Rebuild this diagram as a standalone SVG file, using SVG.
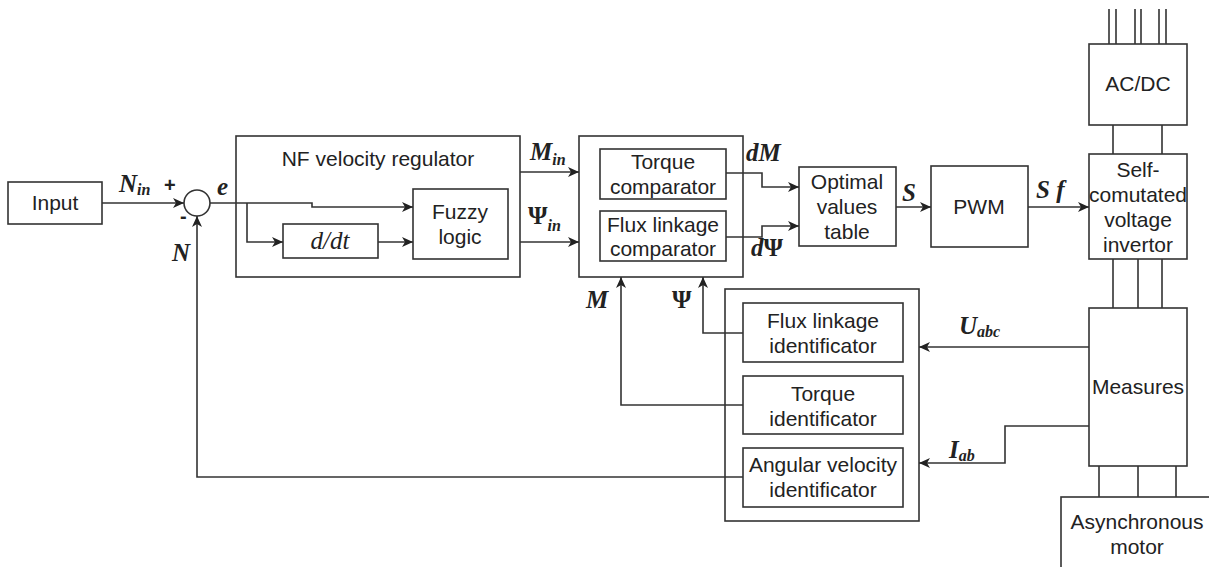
<svg xmlns="http://www.w3.org/2000/svg" width="1209" height="567" viewBox="0 0 1209 567">
<style>
.box{fill:#fff;stroke:#333;stroke-width:1.6}
.ln{fill:none;stroke:#333;stroke-width:1.6}
.t{font-family:"Liberation Sans",Arial,sans-serif;font-size:21px;fill:#222;text-anchor:middle}
.m{font-family:"Liberation Serif","Times New Roman",serif;font-style:italic;font-weight:bold;font-size:25px;fill:#222}
.g{font-style:normal}
.s{font-size:16px;font-style:italic}
.pm{font-family:"Liberation Sans",Arial,sans-serif;font-size:20px;font-weight:bold;fill:#222}
</style>
<defs>
<marker id="arr" markerUnits="userSpaceOnUse" markerWidth="12" markerHeight="10" viewBox="0 0 12 10" refX="11" refY="5" orient="auto">
<path d="M0,0 L11,5 L0,10 L3,5 z" fill="#222"/>
</marker>
</defs>
<rect width="1209" height="567" fill="#fff"/>

<g id="input"><rect class="box" x="8" y="182" width="94" height="42"/><text class="t" x="55" y="210">Input</text></g>
<g id="sum"><circle class="box" cx="197" cy="203" r="13"/></g>
<g id="nf-regulator"><rect class="box" x="236" y="136" width="284" height="141"/><text class="t" x="378" y="166">NF velocity regulator</text></g>
<g id="ddt"><rect class="box" x="283" y="224" width="95" height="34"/><text x="330" y="249" text-anchor="middle" style="font-family:'Liberation Serif','Times New Roman',serif;font-style:italic;font-size:25px;fill:#222">d/dt</text></g>
<g id="fuzzy"><rect class="box" x="413" y="189" width="95" height="70"/><text class="t" x="460" y="219">Fuzzy</text><text class="t" x="460" y="244">logic</text></g>
<g id="comparators"><rect class="box" x="579" y="136" width="164" height="141"/></g>
<g id="torque-comp"><rect class="box" x="600" y="149" width="126" height="50"/><text class="t" x="663" y="169">Torque</text><text class="t" x="663" y="194">comparator</text></g>
<g id="flux-comp"><rect class="box" x="600" y="211" width="126" height="50"/><text class="t" x="663" y="232">Flux linkage</text><text class="t" x="663" y="256">comparator</text></g>
<g id="optimal"><rect class="box" x="799" y="167" width="97" height="79"/><text class="t" x="847" y="189">Optimal</text><text class="t" x="847" y="214">values</text><text class="t" x="847" y="239">table</text></g>
<g id="pwm"><rect class="box" x="931" y="166" width="97" height="81"/><text class="t" x="979" y="214">PWM</text></g>
<g id="acdc"><rect class="box" x="1089" y="44" width="98" height="81"/><text class="t" x="1138" y="91">AC/DC</text></g>
<g id="inverter"><rect class="box" x="1089" y="154" width="98" height="105"/><text class="t" x="1138" y="177">Self-</text><text class="t" x="1138" y="202">comutated</text><text class="t" x="1138" y="227">voltage</text><text class="t" x="1138" y="252">invertor</text></g>
<g id="measures"><rect class="box" x="1089" y="308" width="98" height="158"/><text class="t" x="1138" y="394">Measures</text></g>
<g id="motor"><rect class="box" x="1061" y="497" width="170" height="90"/><text class="t" x="1137" y="529">Asynchronous</text><text class="t" x="1137" y="554">motor</text></g>
<g id="identificators"><rect class="box" x="725" y="289" width="194" height="232"/></g>
<g id="flux-id"><rect class="box" x="743" y="303" width="160" height="59"/><text class="t" x="823" y="328">Flux linkage</text><text class="t" x="823" y="353">identificator</text></g>
<g id="torque-id"><rect class="box" x="743" y="376" width="160" height="58"/><text class="t" x="823" y="401">Torque</text><text class="t" x="823" y="426">identificator</text></g>
<g id="angular-id"><rect class="box" x="743" y="448" width="160" height="59"/><text class="t" x="823" y="472">Angular velocity</text><text class="t" x="823" y="497">identificator</text></g>

<g id="connectors">
<path class="ln" d="M102 203 H184" marker-end="url(#arr)"/>
<path class="ln" d="M743 477 H197 V216" marker-end="url(#arr)"/>
<path class="ln" d="M210 203 H312 V207 H413" marker-end="url(#arr)"/>
<path class="ln" d="M247 203 V242 H283" marker-end="url(#arr)"/>
<path class="ln" d="M378 242 H413" marker-end="url(#arr)"/>
<path class="ln" d="M520 172 H579" marker-end="url(#arr)"/>
<path class="ln" d="M520 242 H579" marker-end="url(#arr)"/>
<path class="ln" d="M726 173 H762 V187 H799" marker-end="url(#arr)"/>
<path class="ln" d="M726 237 H762 V226 H799" marker-end="url(#arr)"/>
<path class="ln" d="M896 207 H931" marker-end="url(#arr)"/>
<path class="ln" d="M1028 207 H1089" marker-end="url(#arr)"/>
<path class="ln" d="M743 333 H703 V277" marker-end="url(#arr)"/>
<path class="ln" d="M743 405 H621 V277" marker-end="url(#arr)"/>
<path class="ln" d="M1089 347 H919" marker-end="url(#arr)"/>
<path class="ln" d="M1089 426 H1005 V463 H919" marker-end="url(#arr)"/>
<path class="ln" d="M1109 9 V44 M1116 9 V44 M1135 9 V44 M1141 9 V44 M1159 9 V44 M1166 9 V44"/>
<path class="ln" d="M1113 125 V154 M1162 125 V154"/>
<path class="ln" d="M1113 259 V308 M1138 259 V308 M1162 259 V308"/>
<path class="ln" d="M1099 466 V497 M1138 466 V497 M1176 466 V497"/>
</g>

<g id="labels">
<text class="m" x="119" y="192">N<tspan class="s" dy="3">in</tspan></text>
<text class="pm" x="164" y="192">+</text>
<text class="pm" x="180" y="223">-</text>
<text class="m" x="217" y="195">e</text>
<text class="m" x="172" y="261">N</text>
<text class="m" x="530" y="160">M<tspan class="s" dy="5">in</tspan></text>
<text class="m" x="528" y="224"><tspan class="g">Ψ</tspan><tspan class="s" dy="7">in</tspan></text>
<text class="m" x="746" y="161">dM</text>
<text class="m" x="751" y="256">d<tspan class="g">Ψ</tspan></text>
<text class="m" x="902" y="201">S</text>
<text class="m" x="1036" y="198">S f</text>
<text class="m" x="959" y="334">U<tspan class="s" dy="3">abc</tspan></text>
<text class="m" x="949" y="458">I<tspan class="s" dy="3">ab</tspan></text>
<text class="m" x="586" y="308">M</text>
<text class="m g" x="672" y="308">Ψ</text>
</g>
</svg>
